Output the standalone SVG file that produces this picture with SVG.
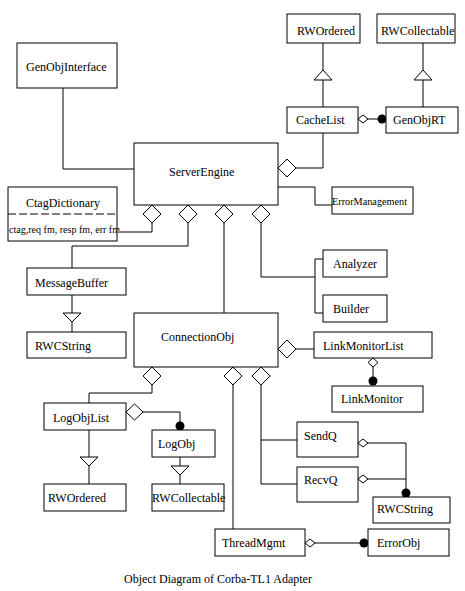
<svg xmlns="http://www.w3.org/2000/svg" width="465" height="591" viewBox="0 0 465 591">
<style>
.box{fill:#fff;stroke:#000;stroke-width:1}
.ln{fill:none;stroke:#000;stroke-width:1}
.dia{fill:#fff;stroke:#000;stroke-width:1}
.dot{fill:#000}
text{font-family:"Liberation Serif","Times New Roman",serif;font-size:12px;fill:#000}
.sm{font-size:10px}
</style>
<rect width="465" height="591" fill="#fff"/>
<g id="connectors">
<polyline class="ln" points="63,88 63,169 134,169"/>
<polyline class="ln" points="323,133 323,168 296,168"/>
<polyline class="ln" points="323,43 323,70"/>
<polyline class="ln" points="323,80 323,107"/>
<polyline class="ln" points="423,43 423,70"/>
<polyline class="ln" points="423,80 423,107"/>
<polyline class="ln" points="368,119 380,119"/>
<polyline class="ln" points="278,187 315,187 315,205 332,205"/>
<polyline class="ln" points="152,223 152,232 120,232"/>
<polyline class="ln" points="188,223 188,246 72,246 72,268"/>
<polyline class="ln" points="72,295 72,313"/>
<polyline class="ln" points="72,322 72,332"/>
<polyline class="ln" points="224,223 224,313"/>
<polyline class="ln" points="261,223 261,277 315,277"/>
<polyline class="ln" points="323,259 315,259 315,313 323,313"/>
<polyline class="ln" points="296,349 314,349"/>
<polyline class="ln" points="373,367 373,380"/>
<polyline class="ln" points="152,385 152,393 89,393 89,403"/>
<polyline class="ln" points="89,430 89,457"/>
<polyline class="ln" points="89,466 89,484"/>
<polyline class="ln" points="143,412 180,412 180,426"/>
<polyline class="ln" points="180,457 180,466"/>
<polyline class="ln" points="180,475 180,484"/>
<polyline class="ln" points="233,385 233,529"/>
<polyline class="ln" points="261,385 261,484 297,484"/>
<polyline class="ln" points="261,440 297,440"/>
<polyline class="ln" points="368,443 406,443 406,490"/>
<polyline class="ln" points="368,479 406,479"/>
<polyline class="ln" points="315,543 361,543"/>
<polygon class="dia" points="323,70 314,80 332,80"/>
<polygon class="dia" points="423,70 414,80 432,80"/>
<polygon class="dia" points="63,313 81,313 72,322"/>
<polygon class="dia" points="80,457 98,457 89,466"/>
<polygon class="dia" points="171,466 189,466 180,475"/>
<polygon class="dia" points="278,168 287,159 296,168 287,177"/>
<polygon class="dia" points="152,205 161,214 152,223 143,214"/>
<polygon class="dia" points="188,205 197,214 188,223 179,214"/>
<polygon class="dia" points="224,205 233,214 224,223 215,214"/>
<polygon class="dia" points="261,205 270,214 261,223 252,214"/>
<polygon class="dia" points="278,349 287,340 296,349 287,358"/>
<polygon class="dia" points="152,367 161,376 152,385 143,376"/>
<polygon class="dia" points="233,367 242,376 233,385 224,376"/>
<polygon class="dia" points="261,367 270,376 261,385 252,376"/>
<polygon class="dia" points="126,412 134.5,404 143,412 134.5,420"/>
<polygon class="dia" points="358,119 363,115 368,119 363,123"/>
<polygon class="dia" points="373,358 378,362.5 373,367 368,362.5"/>
<polygon class="dia" points="358,443 363,439 368,443 363,447"/>
<polygon class="dia" points="358,479 363,475 368,479 363,483"/>
<polygon class="dia" points="305,543 310,539 315,543 310,547"/>
<circle class="dot" cx="382" cy="119" r="4.5"/>
<circle class="dot" cx="373" cy="381" r="4.5"/>
<circle class="dot" cx="180" cy="426" r="4.5"/>
<circle class="dot" cx="406" cy="493" r="4.5"/>
<circle class="dot" cx="364" cy="543" r="4.5"/>
</g>
<g id="GenObjInterface"><rect class="box" x="17" y="43" width="100" height="45"/><text x="26" y="71">GenObjInterface</text></g>
<g id="RWOrdered1"><rect class="box" x="287" y="14" width="73" height="29"/><text x="297" y="35">RWOrdered</text></g>
<g id="RWCollectable1"><rect class="box" x="377" y="14" width="78" height="29"/><text x="381" y="35">RWCollectable</text></g>
<g id="CacheList"><rect class="box" x="287" y="107" width="71" height="26"/><text x="296" y="124">CacheList</text></g>
<g id="GenObjRT"><rect class="box" x="386" y="107" width="72" height="26"/><text x="393" y="124">GenObjRT</text></g>
<g id="ServerEngine"><rect class="box" x="134" y="143" width="144" height="62"/><text x="169" y="176">ServerEngine</text></g>
<g id="ErrorManagement"><rect class="box" x="332" y="187" width="81" height="27"/><text class="sm" x="332" y="205" textLength="75" lengthAdjust="spacingAndGlyphs">ErrorManagement</text></g>
<g id="CtagDictionary"><rect class="box" x="8" y="187" width="109" height="54"/><line class="ln" x1="8" y1="214" x2="117" y2="214" stroke-dasharray="8,3"/><text x="26" y="207">CtagDictionary</text><text class="sm" x="9" y="233" textLength="111" lengthAdjust="spacingAndGlyphs">ctag,req fm, resp fm, err fm</text></g>
<g id="MessageBuffer"><rect class="box" x="27" y="268" width="99" height="27"/><text x="35" y="287">MessageBuffer</text></g>
<g id="RWCString1"><rect class="box" x="27" y="332" width="99" height="26"/><text x="35" y="350">RWCString</text></g>
<g id="Analyzer"><rect class="box" x="323" y="250" width="64" height="27"/><text x="333" y="268">Analyzer</text></g>
<g id="Builder"><rect class="box" x="323" y="295" width="64" height="27"/><text x="333" y="313">Builder</text></g>
<g id="ConnectionObj"><rect class="box" x="134" y="313" width="144" height="54"/><text x="161" y="341">ConnectionObj</text></g>
<g id="LinkMonitorList"><rect class="box" x="314" y="332" width="118" height="26"/><text x="323" y="350">LinkMonitorList</text></g>
<g id="LinkMonitor"><rect class="box" x="332" y="386" width="91" height="26"/><text x="341" y="403">LinkMonitor</text></g>
<g id="LogObjList"><rect class="box" x="44" y="403" width="82" height="27"/><text x="53" y="422">LogObjList</text></g>
<g id="LogObj"><rect class="box" x="152" y="430" width="63" height="27"/><text x="158" y="448">LogObj</text></g>
<g id="RWOrdered2"><rect class="box" x="44" y="484" width="82" height="27"/><text x="48" y="502">RWOrdered</text></g>
<g id="RWCollectable2"><rect class="box" x="152" y="484" width="72" height="27"/><text x="152" y="502">RWCollectable</text></g>
<g id="SendQ"><rect class="box" x="297" y="422" width="61" height="35"/><text x="304" y="440">SendQ</text></g>
<g id="RecvQ"><rect class="box" x="297" y="467" width="61" height="35"/><text x="304" y="484">RecvQ</text></g>
<g id="RWCString2"><rect class="box" x="373" y="497" width="77" height="26"/><text x="377" y="513">RWCString</text></g>
<g id="ThreadMgmt"><rect class="box" x="215" y="529" width="90" height="27"/><text x="222" y="547">ThreadMgmt</text></g>
<g id="ErrorObj"><rect class="box" x="368" y="529" width="81" height="27"/><text x="377" y="547">ErrorObj</text></g>
<text x="124" y="583">Object Diagram of Corba-TL1 Adapter</text>
</svg>
